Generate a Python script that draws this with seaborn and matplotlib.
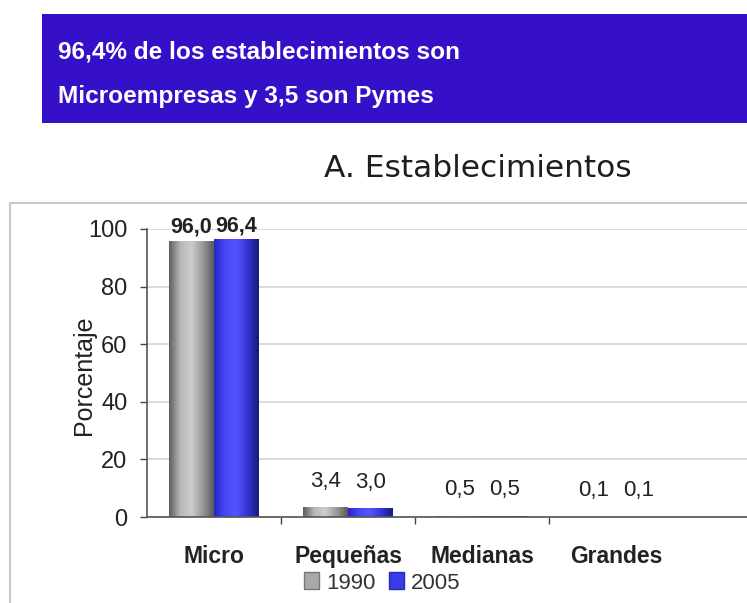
import numpy as np
import pandas as pd
import matplotlib
matplotlib.use("Agg")
import matplotlib.pyplot as plt
from matplotlib import font_manager
from matplotlib.patches import Rectangle, Patch
from matplotlib.colors import LinearSegmentedColormap
import seaborn as sns

categories = ["Micro", "Pequeñas", "Medianas", "Grandes"]
years = ["1990", "2005"]
v1990 = [96.0, 3.4, 0.5, 0.1]
v2005 = [96.4, 3.0, 0.5, 0.1]
yticks = [0, 20, 40, 60, 80, 100]

banner_line1 = "96,4% de los establecimientos son"
banner_line2 = "Microempresas y 3,5 son Pymes"
chart_title = "A. Establecimientos"
ylabel = "Porcentaje"

df = pd.DataFrame({
    "cat": categories * 2,
    "year": [years[0]] * 4 + [years[1]] * 4,
    "val": v1990 + v2005,
})

sns.set_theme(style="white")
plt.rcParams["font.family"] = ["Liberation Sans", "DejaVu Sans"]

installed = {f.name for f in font_manager.fontManager.ttflist}
if "Liberation Sans Narrow" in installed:
    banner_font, banner_size = ["Liberation Sans Narrow", "DejaVu Sans"], 22
else:
    banner_font, banner_size = ["Liberation Sans", "DejaVu Sans"], 17.6

W, H = 747, 603
fig = plt.figure(figsize=(W / 100, H / 100), dpi=100)
fig.patch.set_facecolor("white")

# banner
fig.patches.append(Rectangle((42 / W, 1 - 123 / H), 705 / W, 109 / H,
                             transform=fig.transFigure, facecolor="#3510c8",
                             edgecolor="none", zorder=0))
fig.text(58 / W, 1 - 58 / H, banner_line1, color="white", fontsize=banner_size,
         fontweight="bold", ha="left", va="baseline", family=banner_font)
fig.text(58 / W, 1 - 103 / H, banner_line2, color="white", fontsize=banner_size,
         fontweight="bold", ha="left", va="baseline", family=banner_font)

# chart frame
fig.add_artist(plt.Line2D([10 / W, 10 / W], [0, 1 - 203 / H], transform=fig.transFigure,
                          color="#c8c8c8", lw=1.5))
fig.add_artist(plt.Line2D([10 / W, 1], [1 - 203 / H, 1 - 203 / H], transform=fig.transFigure,
                          color="#c8c8c8", lw=1.5))

fig.text(478 / W, 1 - 168 / H, chart_title, color="#1e1e1e", fontsize=22.5,
         ha="center", va="center", family=["DejaVu Sans"])

ax = fig.add_axes([147 / W, 1 - 517 / H, 1 - 147 / W, (517 - 229) / H])
palette = {"1990": "#a8a8a8", "2005": "#4444ee"}
sns.barplot(data=df, x="cat", y="val", hue="year", hue_order=years,
            order=categories, palette=palette, width=0.67, ax=ax,
            legend=False, saturation=1, edgecolor="none")

cmaps = [
    LinearSegmentedColormap.from_list("g", ["#5e5e5e", "#b8b8b8", "#cdcdcd", "#9a9a9a", "#5a5a5a"]),
    LinearSegmentedColormap.from_list("b", ["#2626c0", "#4848f8", "#5454ff", "#3434d0", "#181880"]),
]
grad = np.linspace(0, 1, 128).reshape(1, -1)
for cont, cm in zip(ax.containers, cmaps):
    for p in cont.patches:
        x, y0 = p.get_x(), p.get_y()
        w, h = p.get_width(), p.get_height()
        im = ax.imshow(grad, extent=[x, x + w, y0, y0 + h], cmap=cm, aspect="auto",
                       zorder=p.get_zorder() + 0.1, interpolation="bilinear")
        im.set_clip_path(p)

# value labels
for cont in ax.containers:
    for p in cont.patches:
        v = p.get_height()
        txt = f"{v:.1f}".replace(".", ",")
        big = v > 50
        ax.annotate(txt, (p.get_x() + p.get_width() / 2, v),
                    xytext=(0, 2 if big else 11), textcoords="offset points",
                    ha="center", va="bottom", fontsize=15.5 if big else 16,
                    fontweight="bold" if big else "normal", color="#222222",
                    annotation_clip=False)

ax.set_xlim(-0.5, (W - 147) / 134 - 0.5)
ax.set_ylim(0, 100)
ax.set_yticks(yticks)
ax.set_yticklabels([str(t) for t in yticks], fontsize=17, color="#222222")
ax.yaxis.grid(True, color="#d4d4d4", lw=1.2)
ax.set_axisbelow(True)
ax.tick_params(axis="y", direction="out", length=5, width=1, color="#444444",
               left=True, pad=9)
ax.set_xticks(range(len(categories)))
ax.set_xticklabels(categories, fontsize=16.5, fontweight="bold", color="#222222")
ax.tick_params(axis="x", which="major", length=0, pad=20)
ax.set_xticks([0.5, 1.5, 2.5], minor=True)
ax.tick_params(axis="x", which="minor", direction="out", length=5, width=1,
               color="#444444", bottom=True)
ax.set_xlabel("")
ax.set_ylabel("")
for s in ["top", "right"]:
    ax.spines[s].set_visible(False)
for s in ["left", "bottom"]:
    ax.spines[s].set_color("#555555")
    ax.spines[s].set_linewidth(1.2)
ax.set_facecolor("white")

fig.text(84 / W, 1 - 375 / H, ylabel, rotation=90, fontsize=18, color="#222222",
         ha="center", va="center")

handles = [Patch(facecolor="#a8a8a8", edgecolor="#777777", label=years[0]),
           Patch(facecolor="#3a3ae8", edgecolor="#2a2ac0", label=years[1])]
fig.legend(handles=handles, loc="center", bbox_to_anchor=(382 / W, 1 - 583 / H),
           ncol=2, frameon=False, fontsize=16, handlelength=0.7, handleheight=0.8,
           handletextpad=0.3, columnspacing=0.6, labelcolor="#333333")

fig.savefig("out.png", dpi=100)
